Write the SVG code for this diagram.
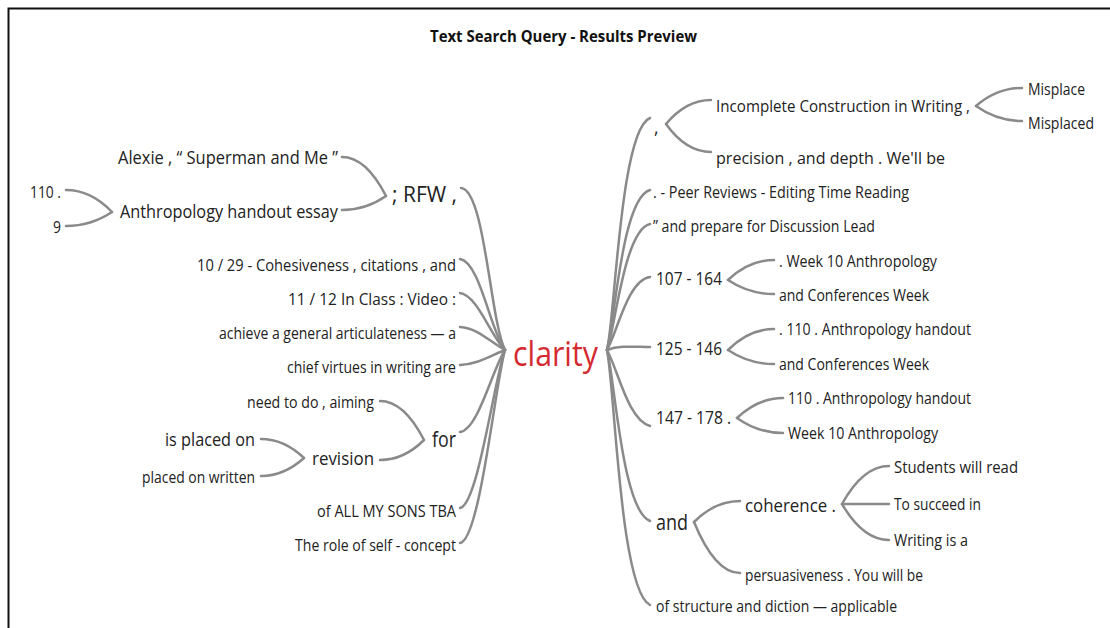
<svg xmlns="http://www.w3.org/2000/svg" width="1110" height="628" viewBox="0 0 1110 628">
<style>
text{font-family:"Open Sans","Noto Sans","Liberation Sans",sans-serif;fill:#222;}
.t{font-size:15.5px;}
.m{font-size:17.5px;}
.l{font-size:21px;}
.title{font-size:16px;font-weight:bold;fill:#111;}
.hub{font-size:34px;fill:#d42a30;}
.c path{fill:none;stroke:#8a8a8a;stroke-width:2.5;stroke-linecap:round;}
</style>
<rect x="0" y="0" width="1110" height="628" fill="#fff"/>
<rect x="8.5" y="8.5" width="1110" height="630" fill="none" stroke="#111" stroke-width="2"/>
<text class="title" x="430" y="42" textLength="267" lengthAdjust="spacingAndGlyphs">Text Search Query - Results Preview</text>

<g class="c" id="connectors">
<!-- left main -->
<path d="M461,188 C485,190 490,320 505,350"/>
<path d="M460,259 C480,262 490,330 505,350"/>
<path d="M460,293 C478,296 490,335 505,350"/>
<path d="M460,327 C478,328 490,342 505,350"/>
<path d="M460,365 C478,364 490,356 505,350"/>
<path d="M460,432 C478,430 492,370 505,350"/>
<path d="M460,508 C478,505 494,380 505,350"/>
<path d="M460,543 C480,540 495,385 505,350"/>
<!-- right main -->
<path d="M607,350 C615,320 620,130 650,118"/>
<path d="M607,350 C615,320 622,198 650,190"/>
<path d="M607,350 C615,330 624,230 650,224"/>
<path d="M607,350 C618,330 628,280 650,277"/>
<path d="M607,350 C620,345 635,347 650,347"/>
<path d="M607,350 C618,370 628,420 650,426"/>
<path d="M607,350 C615,380 622,510 650,521"/>
<path d="M607,350 C615,390 620,590 650,605"/>
<!-- left forks -->
<path d="M386,196 Q366,157 342,157"/>
<path d="M386,196 Q366,210 342,210"/>
<path d="M112,212 Q91,190 66,190"/>
<path d="M112,212 Q91,226 66,226"/>
<path d="M424,440 Q404,401 380,401"/>
<path d="M424,440 Q404,460 380,460"/>
<path d="M304,458 Q284,439 261,439"/>
<path d="M304,458 Q284,476 261,476"/>
<!-- right forks -->
<path d="M666,124 Q686,100 711,100"/>
<path d="M666,124 Q686,152 711,152"/>
<path d="M976,106 Q997,88 1022,88"/>
<path d="M976,106 Q997,121 1022,121"/>
<path d="M728,280 Q749,260 774,260"/>
<path d="M728,280 Q749,294 774,294"/>
<path d="M728,350 Q749,329 774,329"/>
<path d="M728,350 Q749,364 774,364"/>
<path d="M737,418 Q758,398 783,398"/>
<path d="M737,418 Q758,433 783,433"/>
<path d="M694,522 Q715,501 740,501"/>
<path d="M694,522 Q715,573 740,573"/>
<path d="M842,504 Q863,466 889,466"/>
<path d="M842,504 Q863,504 889,504"/>
<path d="M842,504 Q863,540 889,540"/>
</g>

<g id="n-clarity"><text class="hub" x="513" y="366" textLength="85" lengthAdjust="spacingAndGlyphs">clarity</text></g>

<g id="n-rfw"><text class="l" x="392" y="202" textLength="65" lengthAdjust="spacingAndGlyphs">; RFW ,</text></g>
<g id="n-alexie"><text class="m" x="118" y="164" textLength="220" lengthAdjust="spacingAndGlyphs">Alexie , “ Superman and Me ”</text></g>
<g id="n-anthro"><text class="m" x="120" y="218" textLength="218" lengthAdjust="spacingAndGlyphs">Anthropology handout essay</text></g>
<g id="n-110"><text class="t" x="30" y="198" textLength="31" lengthAdjust="spacingAndGlyphs">110 .</text></g>
<g id="n-9"><text class="t" x="53" y="233" textLength="8" lengthAdjust="spacingAndGlyphs">9</text></g>
<g id="n-1029"><text class="t" x="197" y="271" textLength="259" lengthAdjust="spacingAndGlyphs">10 / 29 - Cohesiveness , citations , and</text></g>
<g id="n-1112"><text class="t" x="288" y="305" textLength="168" lengthAdjust="spacingAndGlyphs">11 / 12 In Class : Video :</text></g>
<g id="n-achieve"><text class="t" x="219" y="339" textLength="237" lengthAdjust="spacingAndGlyphs">achieve a general articulateness — a</text></g>
<g id="n-chief"><text class="t" x="287" y="373" textLength="169" lengthAdjust="spacingAndGlyphs">chief virtues in writing are</text></g>
<g id="n-need"><text class="t" x="247" y="408" textLength="127" lengthAdjust="spacingAndGlyphs">need to do , aiming</text></g>
<g id="n-for"><text class="l" x="432" y="447" textLength="24" lengthAdjust="spacingAndGlyphs">for</text></g>
<g id="n-revision"><text class="m" x="312" y="465" textLength="62" lengthAdjust="spacingAndGlyphs">revision</text></g>
<g id="n-isplaced"><text class="m" x="165" y="446" textLength="90" lengthAdjust="spacingAndGlyphs">is placed on</text></g>
<g id="n-placedwritten"><text class="t" x="142" y="483" textLength="113" lengthAdjust="spacingAndGlyphs">placed on written</text></g>
<g id="n-allmysons"><text class="t" x="317" y="517" textLength="139" lengthAdjust="spacingAndGlyphs">of ALL MY SONS TBA</text></g>
<g id="n-role"><text class="t" x="295" y="551" textLength="161" lengthAdjust="spacingAndGlyphs">The role of self - concept</text></g>

<g id="n-comma"><text class="m" x="654" y="134">,</text></g>
<g id="n-incomplete"><text class="t" x="716" y="112" textLength="254" lengthAdjust="spacingAndGlyphs">Incomplete Construction in Writing ,</text></g>
<g id="n-misplace"><text class="t" x="1028" y="95" textLength="57" lengthAdjust="spacingAndGlyphs">Misplace</text></g>
<g id="n-misplaced"><text class="t" x="1028" y="129" textLength="66" lengthAdjust="spacingAndGlyphs">Misplaced</text></g>
<g id="n-precision"><text class="t" x="716" y="164" textLength="229" lengthAdjust="spacingAndGlyphs">precision , and depth . We'll be</text></g>
<g id="n-peer"><text class="t" x="653" y="198" textLength="256" lengthAdjust="spacingAndGlyphs">. - Peer Reviews - Editing Time Reading</text></g>
<g id="n-prepare"><text class="t" x="653" y="232" textLength="222" lengthAdjust="spacingAndGlyphs">” and prepare for Discussion Lead</text></g>
<g id="n-107"><text class="m" x="656" y="285" textLength="66" lengthAdjust="spacingAndGlyphs">107 - 164</text></g>
<g id="n-week10a"><text class="t" x="779" y="267" textLength="158" lengthAdjust="spacingAndGlyphs">. Week 10 Anthropology</text></g>
<g id="n-confa"><text class="t" x="779" y="301" textLength="150" lengthAdjust="spacingAndGlyphs">and Conferences Week</text></g>
<g id="n-125"><text class="m" x="656" y="355" textLength="66" lengthAdjust="spacingAndGlyphs">125 - 146</text></g>
<g id="n-110a"><text class="t" x="779" y="335" textLength="192" lengthAdjust="spacingAndGlyphs">. 110 . Anthropology handout</text></g>
<g id="n-confb"><text class="t" x="779" y="370" textLength="150" lengthAdjust="spacingAndGlyphs">and Conferences Week</text></g>
<g id="n-147"><text class="m" x="656" y="424" textLength="75" lengthAdjust="spacingAndGlyphs">147 - 178 .</text></g>
<g id="n-110b"><text class="t" x="788" y="404" textLength="183" lengthAdjust="spacingAndGlyphs">110 . Anthropology handout</text></g>
<g id="n-week10b"><text class="t" x="788" y="439" textLength="150" lengthAdjust="spacingAndGlyphs">Week 10 Anthropology</text></g>
<g id="n-and"><text class="l" x="656" y="530" textLength="32" lengthAdjust="spacingAndGlyphs">and</text></g>
<g id="n-coherence"><text class="m" x="745" y="512" font-size="19" textLength="91" lengthAdjust="spacingAndGlyphs">coherence .</text></g>
<g id="n-students"><text class="t" x="894" y="473" textLength="124" lengthAdjust="spacingAndGlyphs">Students will read</text></g>
<g id="n-succeed"><text class="t" x="894" y="510" textLength="87" lengthAdjust="spacingAndGlyphs">To succeed in</text></g>
<g id="n-writing"><text class="t" x="894" y="546" textLength="74" lengthAdjust="spacingAndGlyphs">Writing is a</text></g>
<g id="n-persuasive"><text class="t" x="745" y="581" textLength="178" lengthAdjust="spacingAndGlyphs">persuasiveness . You will be</text></g>
<g id="n-structure"><text class="t" x="656" y="612" textLength="241" lengthAdjust="spacingAndGlyphs">of structure and diction — applicable</text></g>
</svg>
